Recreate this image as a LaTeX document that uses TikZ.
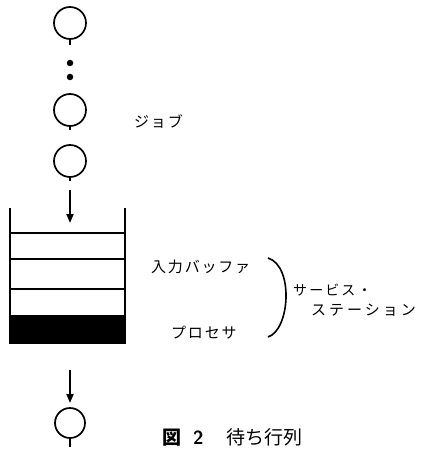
\documentclass[tikz,border=0pt]{standalone}
\usepackage{fontspec}
\newfontfamily\jp{Noto Sans CJK JP}
\usetikzlibrary{arrows.meta}
\tikzset{
  job/.style={draw, circle, line width=1.7pt, minimum size=32pt, inner sep=0pt},
  tail/.style={line width=1.7pt},
  flow/.style={line width=2pt, -{Triangle[length=9pt,width=7pt]}},
  wall/.style={line width=1.5pt},
  slot/.style={line width=1.2pt},
  lbl/.style={font=\jp\fontsize{15pt}{15pt}\selectfont\addfontfeature{LetterSpace=12}, anchor=west, inner sep=0pt},
  dot/.style={fill, circle, minimum size=6.5pt, inner sep=0pt}
}
\begin{document}
\begin{tikzpicture}[x=1pt,y=-1pt]
\useasboundingbox (0,0) rectangle (424,449);
% jobs
\node[job] (j1) at (70,23) {};
\coordinate (t1) at (70,45);
\draw[tail] (j1.south) -- (t1);
\node[dot] (d1) at (70,63) {};
\node[dot] (d2) at (70,77) {};
\node[job] (j2) at (70,110) {};
\coordinate (t2) at (70,130);
\draw[tail] (j2.south) -- (t2);
\node[job] (j3) at (70,161) {};
\coordinate (t3) at (70,181);
\draw[tail] (j3.south) -- (t3);
% arrow in
\coordinate (a1s) at (70,190);
\coordinate (a1e) at (70,223);
\draw[flow] (a1s) -- (a1e);
% queue
\coordinate (wl1) at (10,208);
\coordinate (wl2) at (10,344);
\coordinate (wr1) at (125,208);
\coordinate (wr2) at (125,344);
\draw[wall] (wl1) -- (wl2);
\draw[wall] (wr1) -- (wr2);
\draw[slot] (10,233) -- (125,233);
\draw[slot] (10,259) -- (125,259);
\draw[slot] (10,289) -- (125,289);
\node[fill, minimum width=115pt, minimum height=29pt, inner sep=0pt, anchor=north west] (proc) at (10,315) {};
% arrow out
\coordinate (a2s) at (70,370);
\coordinate (a2e) at (70,403);
\draw[flow] (a2s) -- (a2e);
\node[job, minimum size=30pt] (j4) at (70,423) {};
\coordinate (t4) at (70,447);
\draw[tail] (j4.south) -- (t4);
% labels
\node[lbl] (job) at (134,121) {ジョブ};
\node[lbl] (buf) at (151,267) {入力バッファ};
\node[lbl] (pr) at (171,333) {プロセサ};
\coordinate (b1) at (268,258);
\coordinate (b2) at (268,337);
\draw[line width=1.6pt] (b1) .. controls (294,266) and (290,330) .. (b2);
\node[lbl, font=\jp\fontsize{14pt}{14pt}\selectfont\addfontfeature{LetterSpace=15}] (ss1) at (293,290) {サービス・};
\node[lbl, font=\jp\fontsize{15pt}{15pt}\selectfont\addfontfeature{LetterSpace=20}] (ss2) at (311,310) {ステーション};
\node[anchor=west, inner sep=0pt, font=\jp\fontsize{19pt}{19pt}\selectfont] (cap) at (162,437) {\textbf{図}\hspace{12pt}\textbf{\sffamily 2}\hspace{23pt}待ち行列};
\end{tikzpicture}
\end{document}
